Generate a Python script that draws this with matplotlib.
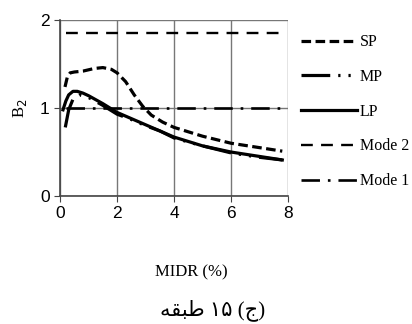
import matplotlib.pyplot as plt

# data
sp_x = [0.17, 0.25, 0.35, 0.5, 0.8, 1.2, 1.5, 1.8, 2.0, 2.3, 2.6, 2.9, 3.2, 3.6, 4.0, 5.0, 6.0, 7.0, 7.8]
sp_y = [1.24, 1.35, 1.40, 1.41, 1.42, 1.45, 1.46, 1.44, 1.40, 1.30, 1.15, 1.02, 0.92, 0.84, 0.78, 0.68, 0.60, 0.55, 0.51]

mp_x = [0.18, 0.3, 0.45, 0.7, 1.0, 1.5, 2.0, 2.5, 3.0, 3.5, 4.0, 5.0, 6.0, 7.0, 7.8]
mp_y = [0.78, 0.98, 1.10, 1.15, 1.12, 1.03, 0.93, 0.87, 0.80, 0.74, 0.66, 0.57, 0.49, 0.44, 0.41]

lp_x = [0.1, 0.2, 0.3, 0.45, 0.6, 0.8, 1.0, 1.5, 2.0, 2.5, 3.0, 3.5, 4.0, 5.0, 6.0, 7.0, 7.8]
lp_y = [0.98, 1.08, 1.15, 1.19, 1.19, 1.17, 1.14, 1.05, 0.95, 0.88, 0.81, 0.74, 0.67, 0.57, 0.50, 0.45, 0.41]

mode_x = [0.2, 7.8]
mode2_y = [1.85, 1.85]
mode1_y = [1.0, 1.0]

xticks = [0, 2, 4, 6, 8]
yticks = [0, 1, 2]

# Persian caption, glyphs in visual order (matplotlib does no Arabic shaping)
caption = '\ufeea\ufed8\ufe92\ufec3 \u06f1\u06f5 (\ufe9d)'

fig = plt.figure(figsize=(4.12, 3.24), dpi=100)
ax = fig.add_axes([0.146, 0.395, 0.553, 0.543])

ax.plot(sp_x, sp_y, color='black', lw=2.3, dashes=(3, 1.4), label='SP')
ax.plot(mp_x, mp_y, color='black', lw=2.3, dashes=(9, 2.5, 0.7, 2.5, 0.7, 2.5), label='MP')
ax.plot(lp_x, lp_y, color='black', lw=2.3, label='LP')
ax.plot(mode_x, mode2_y, color='black', lw=1.7, dashes=(5, 3.5), label='Mode 2')
ax.plot(mode_x, mode1_y, color='black', lw=1.9, dashes=(7, 3, 1, 3), label='Mode 1')

ax.set_xlim(0, 8)
ax.set_ylim(0, 2)
ax.set_xticks(xticks)
ax.set_yticks(yticks)
ax.grid(True, color='#777777', lw=1)
for s in ['top', 'right']:
    ax.spines[s].set_visible(False)
for s in ['left', 'bottom']:
    ax.spines[s].set_color('#444444')
    ax.spines[s].set_linewidth(1.2)
ax.tick_params(labelsize=12.5, length=4, color='#444444')
for t in ax.get_xticklabels() + ax.get_yticklabels():
    t.set_family('Liberation Sans')

ax.set_ylabel('B$_2$', family='Liberation Serif', fontsize=12, labelpad=8)

leg = ax.legend(loc='upper left', bbox_to_anchor=(1.03, 0.955), frameon=False,
                prop={'family': 'Liberation Serif', 'size': 11.5},
                handlelength=3.5, labelspacing=1.17, handletextpad=0.15,
                borderaxespad=0)

fig.text(0.464, 0.16, 'MIDR (%)', family='Liberation Serif', fontsize=12,
         ha='center', va='center')
fig.text(0.515, 0.043, caption, family=['Liberation Serif', 'DejaVu Sans'],
         fontsize=15, ha='center', va='center')

fig.savefig('out.png', dpi=100)
